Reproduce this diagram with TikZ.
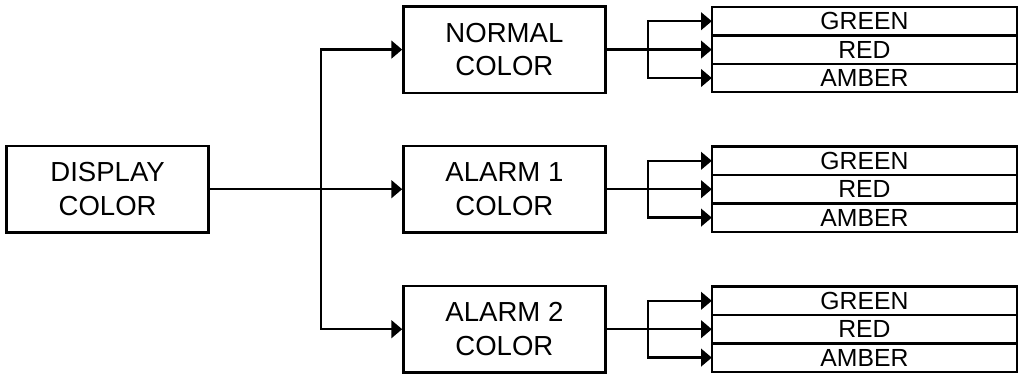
\documentclass[tikz,border=0pt]{standalone}
\usepackage{fontspec}
\setmainfont{Liberation Sans}
\usetikzlibrary{arrows.meta,positioning}

\begin{document}
\begin{tikzpicture}[>={Triangle[length=2.7mm,width=4.4mm]}, line width=1.7pt,
    box/.style={draw, minimum width=5.05cm, minimum height=2.16cm, align=center,
      font=\fontsize{19.6}{24}\selectfont},
    cell/.style={draw, minimum width=7.63cm, minimum height=0.71cm, inner sep=0pt,
      outer sep=0pt, font=\fontsize{17.6}{18}\selectfont}]
    \useasboundingbox (0,0) rectangle (25.475,-9.35);

    % --- Source box ---
    \node[box] (disp) at (2.69,-4.73) {DISPLAY\\COLOR};
    \coordinate (bus) at (8.03,-4.73);

    % --- Three colour settings, each with its table ---
    \foreach \name/\txt/\y in {normal/NORMAL/-1.24, alarmA/ALARM 1/-4.73, alarmB/ALARM 2/-8.23} {
        \node[box] (\name) at (12.61,\y) {\txt\\COLOR};
        \node[cell] (\name-r) at (21.61,\y) {RED};
        \node[cell, above=0pt of \name-r] (\name-g) {GREEN};
        \node[cell, below=0pt of \name-r] (\name-a) {AMBER};
        \coordinate (\name-fork) at (16.2,\y);
        \draw[->] (\name.east) -- (\name-r.west);
        \draw[->] (\name-fork) |- (\name-g.west);
        \draw[->] (\name-fork) |- (\name-a.west);
    }

    % --- Bus to the three boxes ---
    \draw (disp.east) -- (bus);
    \draw[->] (bus) -- (alarmA.west);
    \draw[->] (bus) |- (normal.west);
    \draw[->] (bus) |- (alarmB.west);
\end{tikzpicture}
\end{document}
